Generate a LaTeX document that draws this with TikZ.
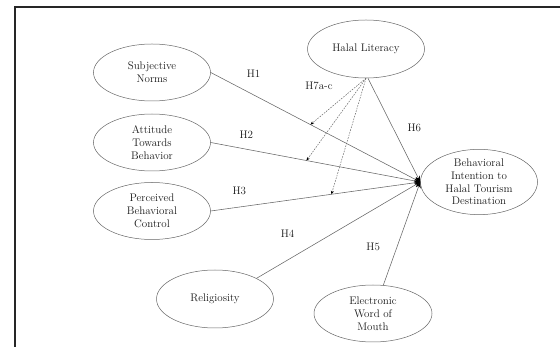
\documentclass[tikz,border=0pt]{standalone}
\usetikzlibrary{shapes.geometric,arrows.meta}
\begin{document}
\begin{tikzpicture}[x=1pt,y=-1pt,
  construct/.style={ellipse,draw=black!60,line width=0.5pt,minimum width=117pt,minimum height=57pt,
    inner sep=0pt,align=center,font=\fontsize{11}{12.8}\selectfont,text=black!90},
  hlabel/.style={font=\fontsize{11}{12.8}\selectfont,text=black!90,inner sep=0pt},
  path/.style={draw=black!60,line width=0.55pt,-{Stealth[length=6pt,width=5pt,black]}},
  modpath/.style={draw=black!60,line width=0.5pt,dash pattern=on 1.6pt off 1.2pt,-{Stealth[length=3.5pt,width=3pt,black]}}]
\useasboundingbox (0,0) rectangle (560,347);
\draw[line width=1.1pt,black!85] (15,347) -- (15,7) -- (560,7);

\node[construct] (sn)  at (152,72.5) {Subjective\\Norms};
\node[construct] (atb) at (152,142.5) {Attitude\\Towards\\Behavior};
\node[construct] (pbc) at (152,211) {Perceived\\Behavioral\\Control};
\node[construct,minimum height=58pt] (rel) at (215,299) {Religiosity};
\node[construct,minimum height=58pt] (hl)  at (366,49) {Halal Literacy};
\node[construct] (bi)  at (479,182) {Behavioral\\Intention to\\Halal Tourism\\Destination};
\node[construct,minimum width=118pt] (ew) at (373,313.5) {Electronic\\Word of\\Mouth};

\draw[path] (sn.east) -- coordinate[pos=0.476] (m1) (bi.west);
\draw[path] (atb.east) -- coordinate[pos=0.457] (m2) (bi.west);
\draw[path] (pbc.east) -- coordinate[pos=0.576] (m3) (bi.west);
\draw[path] (rel.north east) -- (bi.west);
\draw[path] (ew.70) -- (bi.west);
\draw[path] ([xshift=2pt]hl.south) -- (bi.west);

\draw[modpath] (hl.south) -- (m1);
\draw[modpath] (hl.south) -- (m2);
\draw[modpath] (hl.south) -- (m3);

\node[hlabel] (h1) at (253.6,74) {H1};
\node[hlabel] (h2) at (246.4,135) {H2};
\node[hlabel] (h3) at (239.3,190.7) {H3};
\node[hlabel] (h4) at (287.5,233.3) {H4};
\node[hlabel] (h5) at (373.2,247.3) {H5};
\node[hlabel] (h6) at (414.3,127.7) {H6};
\node[hlabel] (h7) at (319,86) {H7a-c};
\end{tikzpicture}
\end{document}
